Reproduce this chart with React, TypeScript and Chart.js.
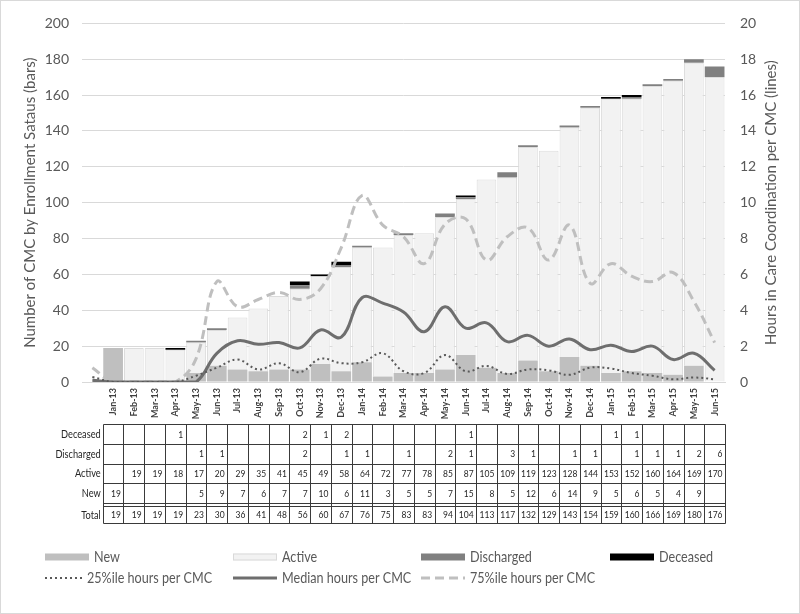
import React, { useEffect, useRef } from "react";
import { Chart, registerables } from "chart.js";

Chart.register(...registerables);

// ---- Data ----
const months = [
  "Jan-13", "Feb-13", "Mar-13", "Apr-13", "May-13", "Jun-13", "Jul-13", "Aug-13", "Sep-13", "Oct-13",
  "Nov-13", "Dec-13", "Jan-14", "Feb-14", "Mar-14", "Apr-14", "May-14", "Jun-14", "Jul-14", "Aug-14",
  "Sep-14", "Oct-14", "Nov-14", "Dec-14", "Jan-15", "Feb-15", "Mar-15", "Apr-15", "May-15", "Jun-15",
];

const newCMC = [19, null, null, null, 5, 9, 7, 6, 7, 7, 10, 6, 11, 3, 5, 5, 7, 15, 8, 5, 12, 6, 14, 9, 5, 6, 5, 4, 9, null];
const activeCMC = [null, 19, 19, 18, 17, 20, 29, 35, 41, 45, 49, 58, 64, 72, 77, 78, 85, 87, 105, 109, 119, 123, 128, 144, 153, 152, 160, 164, 169, 170];
const dischargedCMC = [null, null, null, null, 1, 1, null, null, null, 2, null, 1, 1, null, 1, null, 2, 1, null, 3, 1, null, 1, 1, null, 1, 1, 1, 2, 6];
const deceasedCMC = [null, null, null, 1, null, null, null, null, null, 2, 1, 2, null, null, null, null, null, 1, null, null, null, null, null, null, 1, 1, null, null, null, null];
const totalCMC = [19, 19, 19, 19, 23, 30, 36, 41, 48, 56, 60, 67, 76, 75, 83, 83, 94, 104, 113, 117, 132, 129, 143, 154, 159, 160, 166, 169, 180, 176];

// Hours lines: first value sits in the unlabeled lead-in slot before Jan-13
const p25Hours = [0.28, 0, 0, 0, 0, 0.35, 0.8, 1.25, 0.7, 1.05, 0.55, 1.3, 1.05, 1.1, 1.6, 0.6, 0.5, 1.5, 0.6, 0.9, 0.45, 0.7, 0.65, 0.4, 0.8, 0.75, 0.5, 0.35, 0.15, 0.25, 0.15];
const medianHours = [0.1, 0, 0, 0, 0, 0, 1.6, 2.3, 2.1, 2.2, 1.9, 2.9, 2.5, 4.7, 4.4, 3.9, 2.8, 4.2, 3.0, 3.3, 2.25, 2.6, 2.0, 2.4, 1.8, 2.05, 1.7, 2.0, 1.25, 1.6, 0.65];
const p75Hours = [0.8, 0, 0, 0, 0, 1.3, 5.6, 4.2, 4.6, 5.0, 4.6, 5.2, 7.5, 10.4, 8.75, 8.1, 6.6, 8.8, 9.1, 6.8, 8.1, 8.6, 6.8, 8.75, 5.5, 6.6, 5.9, 5.6, 6.1, 4.5, 2.2];

const leftTitle = "Number of CMC by Enrollment Sataus (bars)";
const rightTitle = "Hours in Care Coordination per CMC (lines)";
const tableRows: [string, (number | null)[]][] = [
  ["Deceased", deceasedCMC],
  ["Discharged", dischargedCMC],
  ["Active", activeCMC],
  ["New", newCMC],
];

const COLORS = {
  newC: "#bfbfbf",
  active: "#f2f2f2",
  discharged: "#808080",
  deceased: "#000000",
  p25: "#595959",
  median: "#6e6e6e",
  p75: "#bfbfbf",
};

const FONT = "Lato, 'Open Sans', sans-serif";

function condText(ctx: CanvasRenderingContext2D, text: string, x: number, y: number, sx: number, align: CanvasTextAlign) {
  ctx.save();
  ctx.translate(x, y);
  ctx.scale(sx, 1);
  ctx.textAlign = align;
  ctx.fillText(text, 0, 0);
  ctx.restore();
}

const decorPlugin = {
  id: "decor",
  beforeDraw(chart: any) {
    const ctx = chart.ctx;
    ctx.save();
    ctx.fillStyle = "#ffffff";
    ctx.fillRect(0, 0, chart.width, chart.height);
    ctx.strokeStyle = "#d9d9d9";
    ctx.lineWidth = 1;
    ctx.strokeRect(0.5, 0.5, chart.width - 1, chart.height - 1);
    ctx.restore();
  },
  afterDraw(chart: any) {
    const { ctx, chartArea, scales } = chart;
    const x = scales.x;
    const cy = (chartArea.top + chartArea.bottom) / 2;

    // Axis titles
    [[30, leftTitle], [771, rightTitle]].forEach(([tx, t]) => {
      ctx.save();
      ctx.fillStyle = "#595959";
      ctx.font = `15px ${FONT}`;
      ctx.textAlign = "center";
      ctx.textBaseline = "middle";
      ctx.translate(tx as number, cy);
      ctx.rotate(-Math.PI / 2);
      ctx.fillText(t as string, 0, 0);
      ctx.restore();
    });

    // Data table
    const step = x.getPixelForValue(2) - x.getPixelForValue(1);
    const colLeft = (i: number) => x.getPixelForValue(i + 1) - step / 2;
    const tLeft = colLeft(0);
    const tRight = colLeft(months.length);
    const top = 424;
    const rowH = 19.75;
    const ys = [top, top + rowH, top + 2 * rowH, top + 3 * rowH, top + 4 * rowH];
    const totTop = ys[4] + 3;
    const totBottom = 523;
    const px = (v: number) => Math.round(v) + 0.5;

    ctx.save();
    ctx.strokeStyle = "#3a3a3a";
    ctx.lineWidth = 1;
    ctx.beginPath();
    [...ys, totTop, totBottom].forEach((yy) => {
      ctx.moveTo(px(tLeft), px(yy));
      ctx.lineTo(px(tRight), px(yy));
    });
    for (let i = 0; i <= months.length; i++) {
      const xx = px(colLeft(i));
      ctx.moveTo(xx, px(top));
      ctx.lineTo(xx, px(totBottom));
    }
    ctx.stroke();

    ctx.fillStyle = "#262626";
    ctx.textBaseline = "middle";
    // Row labels
    ctx.font = `11px ${FONT}`;
    tableRows.forEach(([label], r) => {
      condText(ctx, label, tLeft - 2, ys[r] + rowH / 2 + 0.5, 0.84, "right");
    });
    condText(ctx, "Total", tLeft - 2, (totTop + totBottom) / 2 + 0.5, 0.84, "right");

    // Cell values
    ctx.font = `10px ${FONT}`;
    tableRows.forEach(([, arr], r) => {
      arr.forEach((v, i) => {
        if (v === null) return;
        condText(ctx, String(v), colLeft(i + 1) - 2.5, ys[r] + rowH / 2 + 0.5, 0.85, "right");
      });
    });
    totalCMC.forEach((v, i) => {
      condText(ctx, String(v), colLeft(i + 1) - 2.5, (totTop + totBottom) / 2 + 0.5, 0.85, "right");
    });
    ctx.restore();

    // Legend
    const colsX = [45, 233, 421, 610];
    const row1 = 557;
    const row2 = 578;
    const barItems: [string, string][] = [
      ["New", COLORS.newC],
      ["Active", COLORS.active],
      ["Discharged", COLORS.discharged],
      ["Deceased", COLORS.deceased],
    ];
    ctx.save();
    ctx.font = `15px ${FONT}`;
    ctx.textBaseline = "middle";
    barItems.forEach(([label, color], i) => {
      const lx = colsX[i];
      ctx.fillStyle = color;
      ctx.fillRect(lx, row1 - 3.5, 44, 7);
      if (label === "Active") {
        ctx.strokeStyle = "#d9d9d9";
        ctx.lineWidth = 1;
        ctx.strokeRect(lx + 0.5, row1 - 3, 43, 6);
      }
      ctx.fillStyle = "#595959";
      condText(ctx, label, lx + 49, row1, 0.84, "left");
    });
    const lineItems: [string, string, number[], number][] = [
      ["25%ile hours per CMC", COLORS.p25, [2, 3], 2],
      ["Median hours per CMC", COLORS.median, [], 3],
      ["75%ile hours per CMC", COLORS.p75, [9, 5], 3],
    ];
    lineItems.forEach(([label, color, dash, w], i) => {
      const lx = colsX[i];
      ctx.strokeStyle = color;
      ctx.lineWidth = w;
      ctx.setLineDash(dash);
      ctx.beginPath();
      ctx.moveTo(lx, row2);
      ctx.lineTo(lx + (i === 0 ? 38 : 44), row2);
      ctx.stroke();
      ctx.setLineDash([]);
      ctx.fillStyle = "#595959";
      condText(ctx, label, lx + (i === 0 ? 42 : 49), row2, 0.84, "left");
    });
    ctx.restore();
  },
};

export default function App() {
  const canvasRef = useRef<HTMLCanvasElement | null>(null);

  useEffect(() => {
    document.body.style.margin = "0";
    const canvas = canvasRef.current;
    if (!canvas) return;
    const labels = ["", ...months];
    const lead = (arr: (number | null)[]) => [null, ...arr];

    const chart = new Chart(canvas, {
      type: "bar",
      data: {
        labels,
        datasets: [
          { type: "line", label: "25%ile hours per CMC", data: p25Hours, yAxisID: "y2", borderColor: COLORS.p25, borderWidth: 2, borderDash: [2, 3], pointRadius: 0, tension: 0.4, fill: false, order: 0 },
          { type: "line", label: "Median hours per CMC", data: medianHours, yAxisID: "y2", borderColor: COLORS.median, borderWidth: 3, pointRadius: 0, tension: 0.4, fill: false, order: 0 },
          { type: "line", label: "75%ile hours per CMC", data: p75Hours, yAxisID: "y2", borderColor: COLORS.p75, borderWidth: 3, borderDash: [9, 5], pointRadius: 0, tension: 0.4, fill: false, order: 0 },
          { type: "bar", label: "New", data: lead(newCMC), backgroundColor: COLORS.newC, yAxisID: "y", stack: "s", order: 1 },
          { type: "bar", label: "Active", data: lead(activeCMC), backgroundColor: COLORS.active, borderColor: "#dcdcdc", borderWidth: 1, yAxisID: "y", stack: "s", order: 1 },
          { type: "bar", label: "Discharged", data: lead(dischargedCMC), backgroundColor: COLORS.discharged, yAxisID: "y", stack: "s", order: 1 },
          { type: "bar", label: "Deceased", data: lead(deceasedCMC), backgroundColor: COLORS.deceased, yAxisID: "y", stack: "s", order: 1 },
        ] as any,
      },
      options: {
        responsive: false,
        animation: false,
        maintainAspectRatio: false,
        layout: { padding: { top: 20, left: 0, right: 0, bottom: 0 } },
        datasets: { bar: { categoryPercentage: 1, barPercentage: 0.95 } } as any,
        plugins: { legend: { display: false }, tooltip: { enabled: false } },
        scales: {
          x: {
            stacked: true,
            grid: { display: false, drawTicks: false },
            border: { display: true, color: "#d9d9d9" },
            ticks: {
              autoSkip: false,
              minRotation: 90,
              maxRotation: 90,
              padding: 6,
              color: "#404040",
              font: { family: FONT, size: 9, weight: "bold" },
            },
            afterFit: (s: any) => { s.height = 232; },
          },
          y: {
            stacked: true,
            position: "left",
            min: 0,
            max: 200,
            ticks: { stepSize: 20, padding: 13, color: "#595959", font: { family: FONT, size: 14 } },
            grid: { color: "#d9d9d9", drawTicks: false },
            border: { display: false },
            afterFit: (s: any) => { s.width = 82; },
          },
          y2: {
            position: "right",
            min: 0,
            max: 20,
            ticks: { stepSize: 2, padding: 15, color: "#595959", font: { family: FONT, size: 14 } },
            grid: { display: false, drawTicks: false },
            border: { display: false },
            afterFit: (s: any) => { s.width = 75; },
          },
        },
      } as any,
      plugins: [decorPlugin],
    });
    return () => chart.destroy();
  }, []);

  return (
    <div style={{ width: 800, height: 614 }}>
      <canvas ref={canvasRef} width={800} height={614} style={{ display: "block" }} />
    </div>
  );
}
